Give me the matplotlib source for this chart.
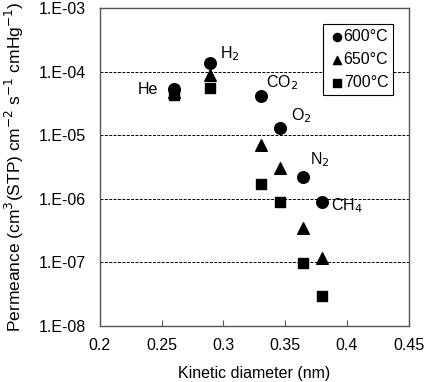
import numpy as np
import matplotlib.pyplot as plt
import matplotlib.ticker as mticker

plt.rcParams['font.family'] = ['Liberation Sans', 'DejaVu Sans']

gases = ['He', 'H$_2$', 'CO$_2$', 'O$_2$', 'N$_2$', 'CH$_4$']
diameter = [0.26, 0.289, 0.33, 0.346, 0.364, 0.38]
perm_600 = [5.3e-5, 1.36e-4, 4.1e-5, 1.3e-5, 2.2e-6, 8.9e-7]
perm_650 = [4.8e-5, 8.7e-5, 7.0e-6, 3.0e-6, 3.5e-7, 1.17e-7]
perm_700 = [4.3e-5, 5.6e-5, 1.7e-6, 8.9e-7, 9.8e-8, 3.0e-8]

# label offsets (points) from the 600C marker
label_offsets = [(-11.5, 0), (7, 7), (4, 10), (8, 8.5), (5.5, 12.5), (6.5, -3)]
label_ha = ['right', 'left', 'left', 'left', 'left', 'left']

fs = 11.5

fig = plt.figure(figsize=(4.25, 3.82), dpi=100)
ax = fig.add_axes([0.235, 0.147, 0.727, 0.832])

ax.scatter(diameter, perm_600, marker='o', s=70, color='black', label='600°C', zorder=3)
ax.scatter(diameter, perm_650, marker='^', s=70, color='black', label='650°C', zorder=3)
ax.scatter(diameter, perm_700, marker='s', s=60, color='black', label='700°C', zorder=3)

for g, x, y, off, ha in zip(gases, diameter, perm_600, label_offsets, label_ha):
    ax.annotate(g, (x, y), xytext=off, textcoords='offset points',
                ha=ha, va='center', fontsize=fs)

ax.set_yscale('log')
ax.set_xlim(0.2, 0.45)
ax.set_ylim(1e-8, 1e-3)
ax.set_xticks([0.2, 0.25, 0.3, 0.35, 0.4, 0.45])
ax.xaxis.set_major_formatter(mticker.FuncFormatter(lambda v, p: f'{v:g}'))
ax.yaxis.set_major_locator(mticker.LogLocator(base=10, numticks=10))
ax.yaxis.set_minor_locator(mticker.NullLocator())
ax.yaxis.set_major_formatter(mticker.FuncFormatter(lambda v, p: f'1.E{int(round(np.log10(v))):03d}'))
ax.tick_params(axis='x', direction='in', length=4, labelsize=fs, pad=9, color='#555555')
ax.tick_params(axis='y', length=0, labelsize=fs, pad=10)
ax.yaxis.grid(True, linestyle=(0, (3, 1.5)), color='black', linewidth=0.7)

for sp in ax.spines.values():
    sp.set_color('#555555')
    sp.set_linewidth(1.0)

ax.set_xlabel('Kinetic diameter (nm)', fontsize=fs, labelpad=9)
ax.set_ylabel('Permeance (cm$^3$(STP) cm$^{-2}$ s$^{-1}$ cmHg$^{-1}$)', fontsize=12.5, labelpad=9)

leg = ax.legend(loc='upper right', bbox_to_anchor=(0.975, 0.975), fontsize=fs,
                handletextpad=-0.2, borderpad=0.3, labelspacing=0.5,
                handlelength=1.2, fancybox=False, framealpha=1, markerscale=0.7)
leg.get_frame().set_edgecolor('black')
leg.get_frame().set_linewidth(0.8)

fig.savefig('out.png', dpi=100)
